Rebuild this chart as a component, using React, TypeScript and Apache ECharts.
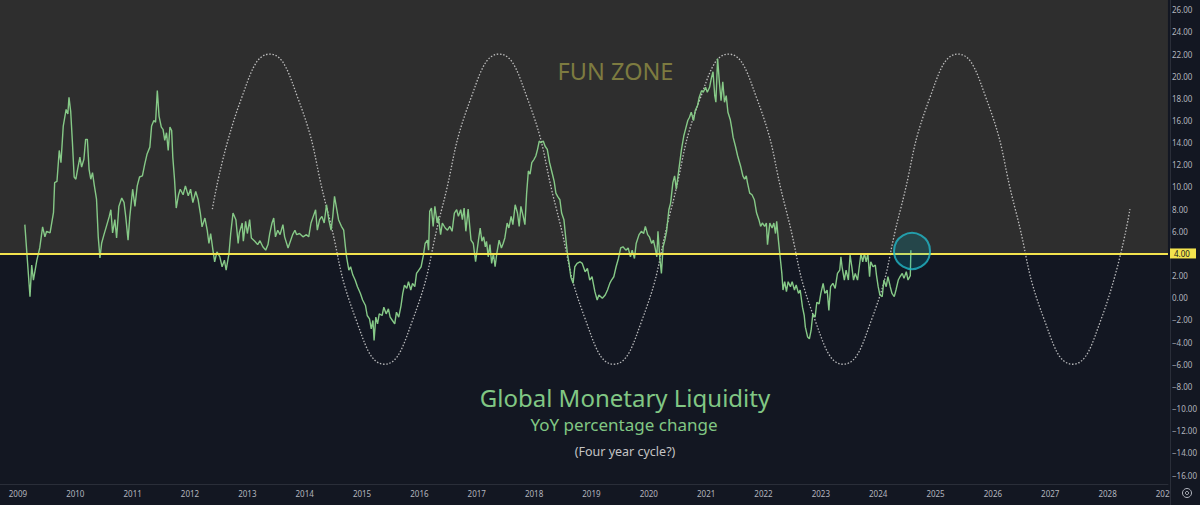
import React, { useEffect, useRef } from "react";
import * as echarts from "echarts";

// ---- data ----
const xTickYears = [2009, 2010, 2011, 2012, 2013, 2014, 2015, 2016, 2017, 2018, 2019, 2020, 2021, 2022, 2023, 2024, 2025, 2026, 2027, 2028, 2029];
const yTickValues = [-16, -14, -12, -10, -8, -6, -4, -2, 0, 2, 4, 6, 8, 10, 12, 14, 16, 18, 20, 22, 24, 26].filter((v) => v !== 4);
const thresholdLevel = 4;

// Global Monetary Liquidity, YoY % change [decimal year, value]
const liquidityYoY: [number, number][] = [
  [2009.12, 6.6], [2009.21, 0.1], [2009.24, 2.95], [2009.27, 1.6], [2009.33, 3.4], [2009.38, 4.5], [2009.43, 6.4], [2009.47, 5.5], [2009.5, 6.0], [2009.56, 5.85],
  [2009.62, 7.7], [2009.64, 10.4], [2009.68, 10.5], [2009.72, 13.3], [2009.75, 12.2], [2009.79, 15.5], [2009.84, 17.0], [2009.87, 16.6], [2009.89, 18.1], [2009.92, 16.8],
  [2009.95, 14.0], [2009.98, 10.9], [2010.01, 10.7], [2010.04, 11.6], [2010.08, 12.7], [2010.11, 11.8], [2010.15, 12.5], [2010.18, 14.3], [2010.21, 14.3], [2010.24, 11.6],
  [2010.27, 10.7], [2010.3, 11.3], [2010.33, 10.2], [2010.37, 8.9], [2010.4, 5.5], [2010.43, 3.6], [2010.46, 4.95], [2010.5, 5.7], [2010.54, 6.4], [2010.59, 7.3],
  [2010.62, 7.95], [2010.65, 5.85], [2010.69, 7.05], [2010.72, 5.4], [2010.76, 8.25], [2010.81, 9.0], [2010.85, 8.6], [2010.88, 7.3], [2010.92, 5.2], [2010.95, 7.3],
  [2011.0, 9.8], [2011.04, 8.25], [2011.08, 10.1], [2011.12, 10.9], [2011.17, 11.0], [2011.21, 12.05], [2011.25, 12.95], [2011.3, 13.6], [2011.33, 15.5], [2011.37, 16.0],
  [2011.4, 15.85], [2011.43, 18.7], [2011.46, 16.4], [2011.5, 15.4], [2011.53, 15.2], [2011.56, 14.2], [2011.59, 14.9], [2011.62, 13.3], [2011.65, 15.4], [2011.68, 15.1],
  [2011.7, 12.7], [2011.73, 10.7], [2011.76, 8.1], [2011.8, 9.3], [2011.83, 9.8], [2011.88, 9.3], [2011.92, 10.1], [2011.97, 9.2], [2012.01, 9.8], [2012.05, 8.6],
  [2012.1, 9.6], [2012.14, 8.9], [2012.18, 7.65], [2012.21, 6.4], [2012.26, 7.2], [2012.3, 6.1], [2012.33, 4.9], [2012.36, 5.8], [2012.4, 4.3], [2012.43, 3.25],
  [2012.47, 4.15], [2012.52, 3.7], [2012.56, 2.8], [2012.6, 3.4], [2012.63, 2.5], [2012.68, 4.0], [2012.71, 5.8], [2012.75, 7.65], [2012.8, 7.05], [2012.84, 4.9],
  [2012.86, 5.85], [2012.91, 6.75], [2012.93, 5.1], [2012.97, 6.9], [2013.0, 5.8], [2013.04, 7.05], [2013.07, 5.4], [2013.13, 5.1], [2013.18, 4.8], [2013.22, 5.15],
  [2013.27, 4.6], [2013.32, 4.3], [2013.36, 4.8], [2013.39, 5.8], [2013.43, 6.75], [2013.46, 7.2], [2013.49, 5.5], [2013.53, 6.1], [2013.57, 5.7], [2013.62, 6.6],
  [2013.65, 5.5], [2013.71, 4.5], [2013.75, 5.1], [2013.79, 5.7], [2013.83, 6.1], [2013.86, 5.7], [2013.91, 5.8], [2013.97, 5.5], [2014.03, 5.7], [2014.07, 5.5],
  [2014.11, 6.75], [2014.15, 7.35], [2014.19, 7.95], [2014.22, 6.1], [2014.26, 7.05], [2014.3, 7.35], [2014.34, 6.75], [2014.38, 8.4], [2014.42, 7.05], [2014.46, 6.1],
  [2014.49, 7.35], [2014.52, 9.15], [2014.56, 7.95], [2014.59, 7.05], [2014.64, 6.45], [2014.68, 6.1], [2014.71, 4.6], [2014.73, 3.7], [2014.77, 2.5], [2014.8, 2.8],
  [2014.84, 2.05], [2014.88, 1.6], [2014.92, 1.0], [2014.97, 0.4], [2015.01, -0.2], [2015.06, -0.7], [2015.09, -1.6], [2015.13, -1.9], [2015.16, -2.8], [2015.19, -2.05],
  [2015.21, -3.85], [2015.24, -1.75], [2015.27, -2.35], [2015.3, -1.45], [2015.35, -1.6], [2015.38, -0.85], [2015.42, -1.45], [2015.46, -1.0], [2015.49, -1.75], [2015.53, -2.05],
  [2015.57, -2.35], [2015.6, -1.3], [2015.64, -1.75], [2015.68, -0.7], [2015.71, 0.4], [2015.74, 1.15], [2015.78, 0.85], [2015.81, 1.45], [2015.85, 0.7], [2015.88, 1.3],
  [2015.92, 1.0], [2015.95, 2.2], [2015.99, 2.5], [2016.03, 2.8], [2016.07, 3.85], [2016.1, 4.9], [2016.14, 5.2], [2016.16, 4.3], [2016.18, 7.8], [2016.21, 8.1],
  [2016.24, 6.45], [2016.27, 8.25], [2016.31, 6.75], [2016.33, 7.35], [2016.37, 5.7], [2016.4, 6.75], [2016.45, 6.3], [2016.49, 6.1], [2016.53, 6.45], [2016.57, 6.0],
  [2016.61, 7.65], [2016.65, 7.95], [2016.68, 7.35], [2016.72, 7.95], [2016.75, 7.05], [2016.78, 8.1], [2016.81, 6.0], [2016.85, 8.0], [2016.9, 5.2], [2016.94, 4.9],
  [2016.98, 3.25], [2017.03, 5.2], [2017.06, 6.3], [2017.09, 5.1], [2017.12, 5.5], [2017.15, 4.6], [2017.17, 5.1], [2017.2, 3.7], [2017.23, 4.8], [2017.26, 3.1],
  [2017.29, 4.0], [2017.32, 2.8], [2017.35, 4.0], [2017.39, 5.2], [2017.43, 4.5], [2017.46, 4.9], [2017.49, 5.4], [2017.53, 6.75], [2017.56, 6.3], [2017.6, 7.35],
  [2017.63, 6.6], [2017.67, 8.4], [2017.71, 7.65], [2017.74, 6.45], [2017.77, 8.25], [2017.81, 7.35], [2017.84, 6.6], [2017.87, 9.45], [2017.9, 11.45], [2017.93, 11.15],
  [2017.96, 12.2], [2018.0, 12.5], [2018.03, 12.8], [2018.06, 13.4], [2018.09, 14.15], [2018.12, 14.0], [2018.16, 14.15], [2018.19, 13.7], [2018.23, 13.4], [2018.27, 12.2],
  [2018.32, 11.15], [2018.35, 10.5], [2018.38, 9.45], [2018.41, 9.15], [2018.45, 8.85], [2018.48, 7.65], [2018.52, 7.05], [2018.55, 5.5], [2018.58, 4.0], [2018.61, 3.1],
  [2018.64, 1.9], [2018.68, 1.3], [2018.71, 2.8], [2018.75, 3.1], [2018.8, 3.25], [2018.84, 3.1], [2018.89, 2.35], [2018.93, 2.65], [2018.97, 1.6], [2019.01, 1.9],
  [2019.06, 0.55], [2019.1, -0.2], [2019.13, 0.25], [2019.19, -0.05], [2019.24, 0.25], [2019.28, 0.7], [2019.32, 1.3], [2019.35, 1.6], [2019.39, 1.9], [2019.43, 2.8],
  [2019.47, 3.55], [2019.51, 4.5], [2019.55, 4.6], [2019.6, 4.3], [2019.64, 4.5], [2019.68, 3.7], [2019.71, 4.3], [2019.75, 3.55], [2019.78, 4.9], [2019.83, 5.7],
  [2019.87, 6.0], [2019.91, 5.8], [2019.94, 6.45], [2019.98, 5.7], [2020.01, 5.5], [2020.05, 4.9], [2020.08, 5.2], [2020.11, 4.5], [2020.14, 3.7], [2020.16, 6.0],
  [2020.19, 3.7], [2020.22, 2.2], [2020.25, 4.6], [2020.28, 5.2], [2020.31, 6.0], [2020.35, 7.95], [2020.38, 8.55], [2020.42, 10.4], [2020.45, 11.0], [2020.48, 9.8],
  [2020.51, 11.0], [2020.54, 12.2], [2020.57, 13.4], [2020.61, 14.6], [2020.64, 15.2], [2020.68, 16.0], [2020.71, 16.3], [2020.74, 16.75], [2020.78, 16.0], [2020.81, 16.9],
  [2020.85, 17.35], [2020.88, 18.1], [2020.92, 18.7], [2020.95, 18.55], [2020.99, 19.0], [2021.02, 18.55], [2021.06, 19.0], [2021.09, 19.8], [2021.12, 20.4], [2021.15, 18.25],
  [2021.17, 17.65], [2021.2, 21.6], [2021.23, 19.5], [2021.26, 17.8], [2021.29, 19.5], [2021.32, 17.65], [2021.35, 18.25], [2021.38, 16.75], [2021.42, 16.1], [2021.45, 15.2],
  [2021.47, 14.5], [2021.51, 13.7], [2021.55, 12.8], [2021.6, 11.9], [2021.64, 11.0], [2021.67, 10.7], [2021.7, 11.0], [2021.72, 10.4], [2021.76, 9.45], [2021.8, 9.3],
  [2021.84, 8.85], [2021.88, 7.65], [2021.92, 7.05], [2021.95, 6.45], [2021.98, 6.75], [2022.02, 6.45], [2022.05, 6.75], [2022.07, 4.8], [2022.11, 6.75], [2022.15, 6.3],
  [2022.18, 6.75], [2022.21, 5.8], [2022.23, 6.9], [2022.26, 5.2], [2022.29, 3.7], [2022.32, 2.2], [2022.34, 0.7], [2022.37, 1.45], [2022.4, 0.55], [2022.43, 1.45],
  [2022.47, 1.0], [2022.5, 1.45], [2022.54, 0.7], [2022.57, 1.15], [2022.61, 0.4], [2022.64, 0.7], [2022.68, -0.85], [2022.71, -1.6], [2022.73, -2.65], [2022.77, -3.55],
  [2022.8, -3.7], [2022.83, -2.95], [2022.86, -1.45], [2022.9, -1.75], [2022.93, -0.4], [2022.97, -0.55], [2023.0, 0.4], [2023.04, 1.3], [2023.07, 0.4], [2023.11, 0.7],
  [2023.14, -1.15], [2023.17, 1.0], [2023.21, 1.3], [2023.25, 0.85], [2023.29, 2.2], [2023.33, 2.5], [2023.35, 3.7], [2023.37, 2.8], [2023.41, 1.6], [2023.44, 2.5],
  [2023.48, 1.6], [2023.51, 3.85], [2023.54, 2.8], [2023.57, 1.6], [2023.6, 2.2], [2023.64, 1.6], [2023.67, 2.8], [2023.7, 4.0], [2023.73, 3.25], [2023.76, 4.0],
  [2023.79, 3.25], [2023.82, 4.0], [2023.85, 1.9], [2023.87, 3.25], [2023.91, 2.8], [2023.95, 2.95], [2023.97, 2.05], [2024.0, 1.0], [2024.03, 0.25], [2024.07, 0.1],
  [2024.1, 1.6], [2024.14, 1.0], [2024.17, 1.9], [2024.21, 1.0], [2024.24, 0.4], [2024.28, 0.1], [2024.31, 0.7], [2024.35, 1.6], [2024.38, 1.9], [2024.42, 2.2],
  [2024.45, 1.75], [2024.49, 2.35], [2024.52, 1.6], [2024.56, 2.0], [2024.57, 4.3],
];

const fourYearCycle: [number, number][] = [
  [2012.39, 8], [2012.89, 17.9], [2013.39, 22], [2013.89, 17.9], [2014.39, 8], [2014.89, -1.9], [2015.39, -6], [2015.89, -1.9],
  [2016.39, 8], [2016.89, 17.9], [2017.39, 22], [2017.89, 17.9], [2018.39, 8], [2018.89, -1.9], [2019.39, -6], [2019.89, -1.9],
  [2020.39, 8], [2020.89, 17.9], [2021.39, 22], [2021.89, 17.9], [2022.39, 8], [2022.89, -1.9], [2023.39, -6], [2023.89, -1.9],
  [2024.39, 8], [2024.89, 17.9], [2025.39, 22], [2025.89, 17.9], [2026.39, 8], [2026.89, -1.9], [2027.39, -6], [2027.89, -1.9],
  [2028.39, 8],
];

const highlightPoint: [number, number][] = [[2024.59, 4.22]];

// ---- view ----
const X_MIN = 2008.687;
const X_MAX = 2029.053;
const Y_MIN = -16.81;
const Y_MAX = 26.88;
const NAVY = "#131722";
const LABEL = "#b2b5be";
const FONT = "'Noto Sans', sans-serif";

export default function App() {
  const ref = useRef<HTMLDivElement>(null);

  useEffect(() => {
    const el = ref.current;
    if (!el) return;
    const chart = echarts.init(el, null, { renderer: "svg" });

    chart.setOption({
      animation: false,
      backgroundColor: NAVY,
      grid: { left: 0, right: 30, top: 0, bottom: 21, containLabel: false },
      xAxis: {
        type: "value",
        min: X_MIN,
        max: X_MAX,
        z: 10,
        axisLine: { show: true, onZero: false, lineStyle: { color: "#2a2e39", width: 1 } },
        axisTick: { show: false },
        splitLine: { show: false },
        axisLabel: {
          customValues: xTickYears,
          formatter: (v: number) => String(Math.round(v)),
          color: LABEL,
          fontSize: 8,
          fontFamily: FONT,
          margin: 5,
        },
      },
      yAxis: {
        type: "value",
        position: "right",
        min: Y_MIN,
        max: Y_MAX,
        z: 60,
        axisLine: { show: false, onZero: false },
        axisTick: { show: false },
        splitLine: { show: false },
        axisLabel: {
          customValues: yTickValues,
          formatter: (v: number) => (v < 0 ? "\u2212" : "") + Math.abs(v).toFixed(2),
          color: LABEL,
          fontSize: 8,
          fontFamily: FONT,
          margin: 4,
          align: "left",
        },
      },
      series: [
        {
          type: "line",
          name: "zones",
          data: [],
          silent: true,
          z: 0,
          markArea: {
            silent: true,
            itemStyle: { color: "#2e2e2e" },
            data: [[{ yAxis: thresholdLevel }, { yAxis: Y_MAX }]],
          },
        },
        {
          type: "line",
          name: "Four year cycle",
          data: fourYearCycle,
          smooth: true,
          showSymbol: false,
          silent: true,
          z: 3,
          lineStyle: { color: "rgba(225,225,225,0.8)", width: 1.3, type: [1.5, 1.7] },
        },
        {
          type: "line",
          name: "Global Monetary Liquidity YoY",
          data: liquidityYoY,
          showSymbol: false,
          silent: true,
          z: 4,
          lineStyle: { color: "#86c987", width: 1.4 },
          markLine: {
            silent: true,
            symbol: ["none", "none"],
            label: { show: false },
            lineStyle: { color: "#f3e34e", width: 2, type: "solid" },
            data: [{ yAxis: thresholdLevel }],
          },
        },
        {
          type: "scatter",
          name: "latest",
          data: highlightPoint,
          symbolSize: 36,
          silent: true,
          z: 5,
          itemStyle: { color: "rgba(0,188,212,0.22)", borderColor: "#22b8c8", borderWidth: 2 },
        },
      ],
    });

    const y4 = chart.convertToPixel({ yAxisIndex: 0 }, thresholdLevel) as number;

    chart.setOption({
      graphic: {
        elements: [
          { type: "rect", silent: true, z: 50, shape: { x: 1170, y: 0, width: 30, height: 505 }, style: { fill: NAVY } },
          { type: "line", silent: true, z: 55, shape: { x1: 1170.5, y1: 0, x2: 1170.5, y2: 505 }, style: { stroke: "#2a2e39", lineWidth: 1 } },
          { type: "rect", silent: true, z: 70, shape: { x: 1170, y: y4 - 5, width: 26, height: 10 }, style: { fill: "#f3e34e" } },
          {
            type: "text", silent: true, z: 71, x: 1174, y: y4,
            style: { text: "4.00", fill: NAVY, font: `8px ${FONT}`, verticalAlign: "middle", textVerticalAlign: "middle" },
          },
          { type: "circle", silent: true, z: 70, shape: { cx: 1187, cy: 493, r: 4.5 }, style: { fill: "none", stroke: LABEL, lineWidth: 1 } },
          { type: "circle", silent: true, z: 70, shape: { cx: 1187, cy: 493, r: 1.6 }, style: { fill: "none", stroke: LABEL, lineWidth: 1 } },
          {
            type: "text", silent: true, z: 20, x: 615.5, y: 71,
            style: { text: "FUN ZONE", fill: "#7d7b40", font: `23.5px ${FONT}`, align: "center", textAlign: "center", verticalAlign: "middle", textVerticalAlign: "middle" },
          },
          {
            type: "text", silent: true, z: 20, x: 625, y: 397.5,
            style: { text: "Global Monetary Liquidity", fill: "#81c784", font: `24px ${FONT}`, align: "center", textAlign: "center", verticalAlign: "middle", textVerticalAlign: "middle" },
          },
          {
            type: "text", silent: true, z: 20, x: 624, y: 424,
            style: { text: "YoY percentage change", fill: "#81c784", font: `17px ${FONT}`, align: "center", textAlign: "center", verticalAlign: "middle", textVerticalAlign: "middle" },
          },
          {
            type: "text", silent: true, z: 20, x: 625, y: 451,
            style: { text: "(Four year cycle?)", fill: "#c4c4c4", font: `12.5px ${FONT}`, align: "center", textAlign: "center", verticalAlign: "middle", textVerticalAlign: "middle" },
          },
        ],
      },
    });

    return () => {
      chart.dispose();
    };
  }, []);

  return <div ref={ref} style={{ position: "fixed", left: 0, top: 0, width: 1200, height: 505 }} />;
}
